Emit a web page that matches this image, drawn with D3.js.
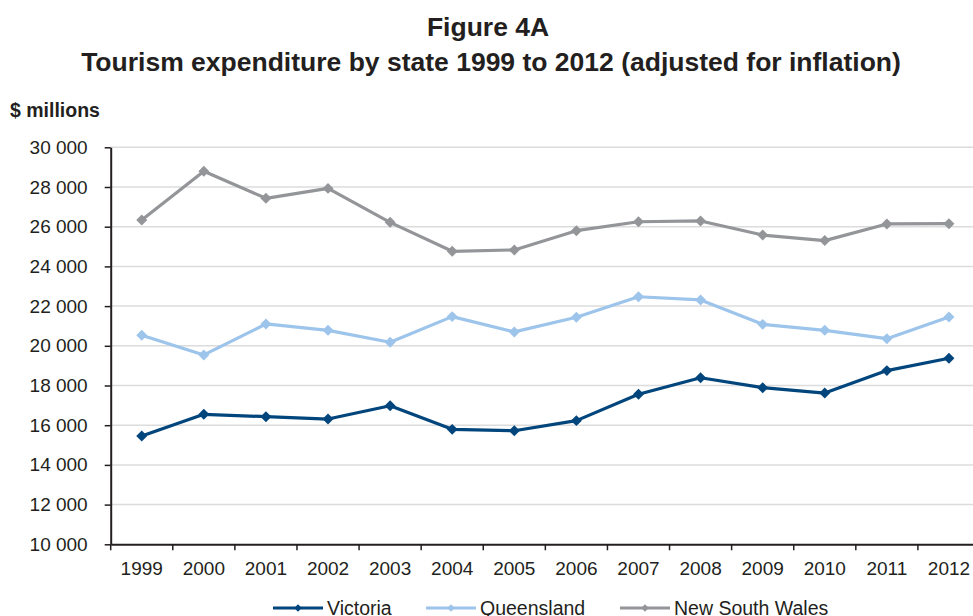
<!DOCTYPE html>
<head>
<meta charset="utf-8">
<script src="https://d3js.org/d3.v7.min.js"></script>
</head>
<body style="margin:0">
<style>
  * { font-family: "Liberation Sans", Arial, sans-serif; }
</style>
<div id="viz"></div>
<script>

// chart data
var years = ["1999","2000","2001","2002","2003","2004","2005","2006","2007","2008","2009","2010","2011","2012"];
var victoria = [15460,16550,16430,16310,16980,15790,15720,16230,17560,18390,17890,17620,18750,19370];
var queensland = [20530,19540,21100,20780,20180,21470,20700,21440,22470,22310,21080,20780,20360,21450];
var nsw = [26340,28790,27430,27930,26220,24760,24830,25800,26250,26290,25580,25300,26140,26150];
var yTicks = [10000,12000,14000,16000,18000,20000,22000,24000,26000,28000,30000];
var seriesNames = ["Victoria","Queensland","New South Wales"];
var seriesColors = ["#00457c","#9dc4ea","#939598"];

var series = [victoria, queensland, nsw].map(function(vals, i) {
  return { name: seriesNames[i], color: seriesColors[i], values: vals };
});

var W = 973, H = 616;
var plotLeft = 110.7, plotRight = 980, plotTop = 147.3, plotBottom = 544.3;

var svg = d3.select("#viz").append("svg")
    .attr("width", W)
    .attr("height", H);

var x = d3.scaleBand().domain(years).range([plotLeft, plotRight]);
var y = d3.scaleLinear().domain([10000, 30000]).range([plotBottom, plotTop]);

// titles
svg.append("text")
    .attr("x", 488).attr("y", 36)
    .attr("text-anchor", "middle")
    .style("font-size", "26.5px").style("font-weight", "bold").attr("fill", "#231f20")
    .text("Figure 4A");
svg.append("text")
    .attr("x", 491).attr("y", 71)
    .attr("text-anchor", "middle")
    .style("font-size", "26.5px").style("font-weight", "bold").attr("fill", "#231f20")
    .text("Tourism expenditure by state 1999 to 2012 (adjusted for inflation)");
svg.append("text")
    .attr("x", 10).attr("y", 117)
    .style("font-size", "19.5px").style("font-weight", "bold").attr("fill", "#231f20")
    .text("$ millions");

// gridlines
svg.append("g").selectAll("line")
  .data(yTicks.slice(1))
  .join("line")
    .attr("x1", plotLeft).attr("x2", W)
    .attr("y1", function(d) { return y(d); })
    .attr("y2", function(d) { return y(d); })
    .attr("stroke", "#dcdcdc")
    .attr("stroke-width", 1.5);

// y axis
var yAxis = svg.append("g")
    .attr("transform", "translate(" + plotLeft + ",0)")
    .call(d3.axisLeft(y).tickValues(yTicks).tickSize(6).tickSizeOuter(0)
      .tickFormat(function(d) { return d3.format(",")(d).replace(",", " "); }));
yAxis.select(".domain").attr("stroke", "#231f20").attr("stroke-width", 2);
yAxis.selectAll(".tick line").attr("stroke", "#231f20").attr("stroke-width", 1.5);
yAxis.selectAll(".tick text")
    .attr("x", -23)
    .style("font-size", "19px").style("font-family", "Liberation Sans, Arial")
    .attr("fill", "#231f20");

// x axis
var xAxis = svg.append("g")
    .attr("transform", "translate(0," + plotBottom + ")")
    .call(d3.axisBottom(x).tickSize(0).tickSizeOuter(0));
xAxis.select(".domain").attr("stroke", "#231f20").attr("stroke-width", 2);
xAxis.selectAll(".tick text")
    .attr("y", 17).attr("dy", "0.71em")
    .style("font-size", "19px").style("font-family", "Liberation Sans, Arial")
    .attr("fill", "#231f20");
xAxis.selectAll(".sep")
  .data(years)
  .join("line")
    .attr("class", "sep")
    .attr("x1", function(d) { return x(d); })
    .attr("x2", function(d) { return x(d); })
    .attr("y1", 0).attr("y2", 6)
    .attr("stroke", "#231f20").attr("stroke-width", 1.5);

// lines and markers
var line = d3.line()
    .x(function(d, i) { return x(years[i]) + x.bandwidth() / 2; })
    .y(function(d) { return y(d); });
var diamond = d3.symbol(d3.symbolSquare, 60);

series.forEach(function(s) {
  svg.append("path")
      .datum(s.values)
      .attr("fill", "none")
      .attr("stroke", s.color)
      .attr("stroke-width", 3.2)
      .attr("stroke-linejoin", "round")
      .attr("d", line);
  svg.append("g").selectAll("path")
    .data(s.values)
    .join("path")
      .attr("d", diamond)
      .attr("fill", s.color)
      .attr("transform", function(d, i) {
        return "translate(" + (x(years[i]) + x.bandwidth() / 2) + "," + y(d) + ") rotate(45)";
      });
});

// legend
var legendX = [273, 426, 620];
var legend = svg.append("g").selectAll("g")
  .data(series)
  .join("g")
    .attr("transform", function(d, i) { return "translate(" + legendX[i] + ",608)"; });
legend.append("line")
    .attr("x1", 0).attr("x2", 50)
    .attr("stroke", function(d) { return d.color; })
    .attr("stroke-width", 3.2);
legend.append("path")
    .attr("d", d3.symbol(d3.symbolSquare, 28))
    .attr("transform", "translate(25,0) rotate(45)")
    .attr("fill", function(d) { return d.color; });
legend.append("text")
    .attr("x", 54).attr("y", 7)
    .style("font-size", "19.5px").attr("fill", "#231f20")
    .text(function(d) { return d.name; });

</script>
</body>
